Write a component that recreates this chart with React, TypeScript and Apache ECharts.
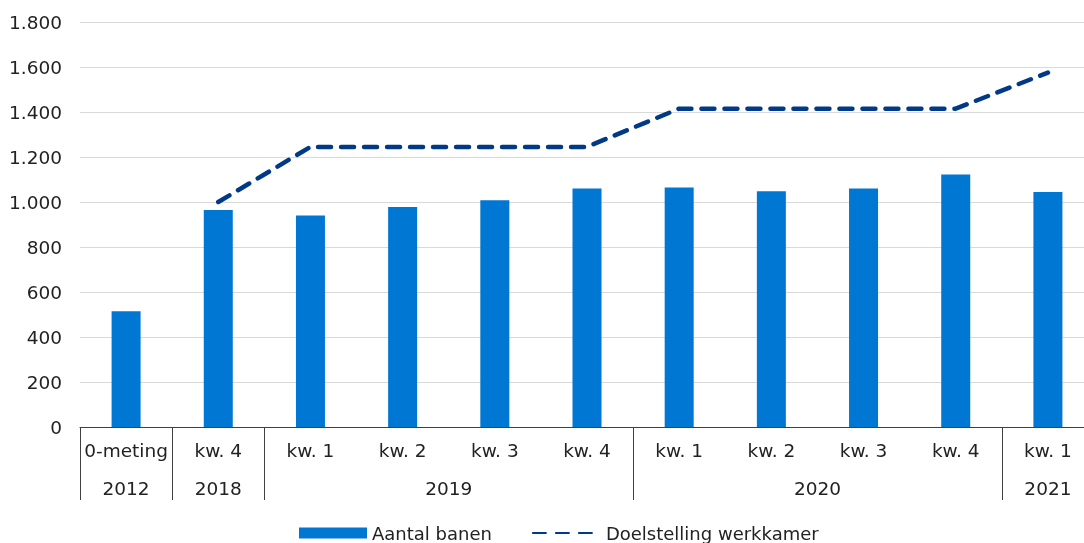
import React, { useEffect, useRef } from "react";
import * as echarts from "echarts";

const quarterLabels = ["0-meting", "kw. 4", "kw. 1", "kw. 2", "kw. 3", "kw. 4", "kw. 1", "kw. 2", "kw. 3", "kw. 4", "kw. 1"];
const years = ["2012", "2018", "2019", "2020", "2021"];
const yearSpans = [1, 1, 4, 4, 1];
const aantalBanen = [515, 964, 940, 978, 1008, 1060, 1064, 1048, 1060, 1122, 1044];
const doelstelling = [null, 1000, 1245, 1245, 1245, 1245, 1415, 1415, 1415, 1415, 1575];
const yTicks = { min: 0, max: 1800, interval: 200 };

const FONT = "DejaVu Sans";

export default function App() {
  const ref = useRef<HTMLDivElement>(null);
  useEffect(() => {
    if (!ref.current) return;
    const chart = echarts.init(ref.current, null, { renderer: "svg" });
    const groupStarts: number[] = [];
    const yearCenters: Record<string, string> = {};
    let s = 0;
    years.forEach((y, i) => {
      groupStarts.push(s);
      yearCenters[String(s + (yearSpans[i] - 1) / 2)] = y;
      s += yearSpans[i];
    });
    const fmt = (v: number) => String(v).replace(/\B(?=(\d{3})+(?!\d))/g, ".");
    chart.setOption({
      animation: false,
      textStyle: { fontFamily: FONT },
      grid: { left: 80, top: 22, width: 1014, height: 405, containLabel: false, outerBoundsMode: "none" },
      legend: {
        left: 294,
        top: 519,
        itemWidth: 68,
        itemHeight: 11,
        itemGap: 40,
        textStyle: { fontFamily: FONT, fontSize: 18, color: "#222", lineHeight: 18 },
        data: [
          { name: "Aantal banen", icon: "rect" },
          { name: "Doelstelling werkkamer", itemStyle: { opacity: 0 } },
        ],
      },
      xAxis: [
        {
          type: "category",
          data: quarterLabels,
          boundaryGap: true,
          axisLine: { show: true, lineStyle: { color: "#404040", width: 1 } },
          axisTick: {
            show: true,
            length: 73,
            interval: (idx: number) => groupStarts.includes(idx),
            lineStyle: { color: "#404040", width: 1 },
          },
          axisLabel: { interval: 0, margin: 14, fontSize: 18.5, color: "#222", fontFamily: FONT },
          splitLine: { show: false },
        },
        {
          type: "value",
          position: "bottom",
          min: -0.5,
          max: quarterLabels.length - 0.5,
          interval: 0.5,
          axisLine: { show: false },
          axisTick: { show: false },
          splitLine: { show: false },
          axisLabel: {
            margin: 52,
            fontSize: 18.5,
            color: "#222",
            fontFamily: FONT,
            showMinLabel: false,
            showMaxLabel: false,
            formatter: (v: number) => yearCenters[String(v)] || "",
          },
        },
      ],
      yAxis: {
        type: "value",
        min: yTicks.min,
        max: yTicks.max,
        interval: yTicks.interval,
        axisLine: { show: false },
        axisTick: { show: false },
        axisLabel: { fontSize: 18.5, color: "#222", margin: 18, fontFamily: FONT, formatter: fmt },
        splitLine: { lineStyle: { color: "#d9d9d9", width: 1 } },
      },
      series: [
        {
          name: "Aantal banen",
          type: "bar",
          xAxisIndex: 0,
          data: aantalBanen,
          barWidth: 29,
          itemStyle: { color: "#0077d2" },
        },
        {
          name: "Doelstelling werkkamer",
          type: "line",
          xAxisIndex: 0,
          data: doelstelling,
          symbol: "none",
          connectNulls: false,
          lineStyle: { color: "#003a87", width: 4.5, type: [13, 10], cap: "round" },
          itemStyle: { color: "#003a87" },
        },
      ],
    });
    return () => chart.dispose();
  }, []);
  return <div ref={ref} style={{ position: "fixed", left: 0, top: 0, width: 1084, height: 543 }} />;
}
